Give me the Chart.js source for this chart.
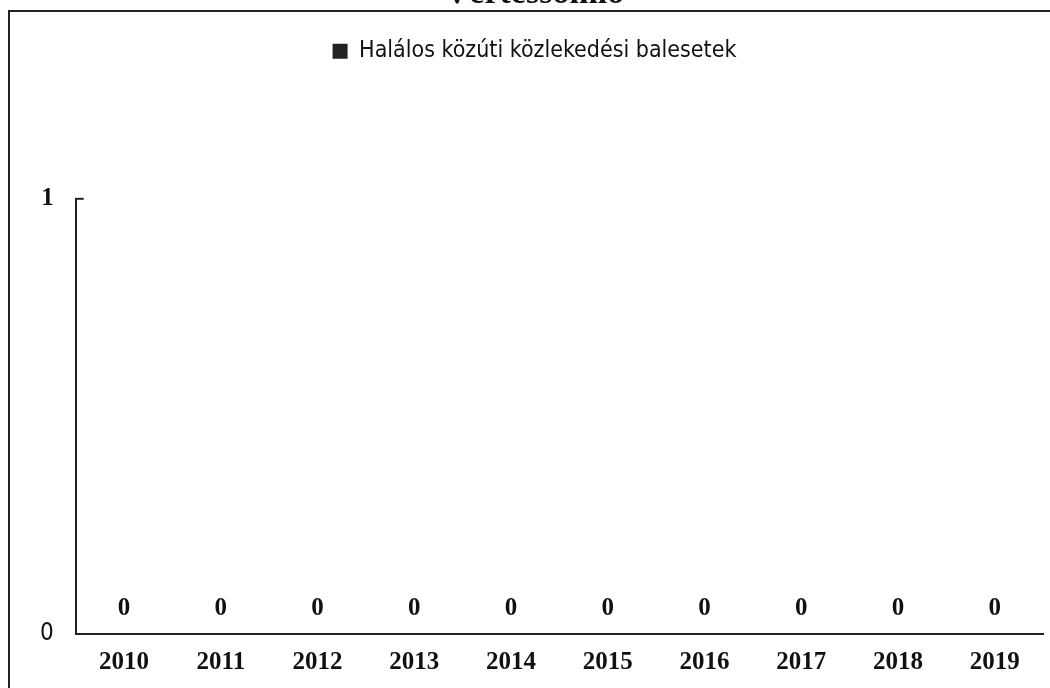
<!DOCTYPE html>
<html>
<head>
<meta charset="utf-8">
<script src="https://cdn.jsdelivr.net/npm/chart.js@4.4.0/dist/chart.umd.min.js"></script>
<style>
  html, body { margin: 0; padding: 0; background: #fff; overflow: hidden; }
  body { width: 1050px; height: 688px; position: relative; }
  .cadre { position: absolute; left: 8px; top: 10px; width: 1100px; height: 700px; border: 2px solid #222; }
  .zone { position: absolute; left: 0; top: -26px; width: 1050px; height: 710px; }
</style>
</head>
<body>
<div class="cadre"></div>
<div class="zone"><canvas id="chartBalesetek"></canvas></div>
<script>
const titre = "Vértessomló";
const evek = ["2010", "2011", "2012", "2013", "2014", "2015", "2016", "2017", "2018", "2019"];
const balesetek = [0, 0, 0, 0, 0, 0, 0, 0, 0, 0];
const yTicks = [0, 1];

// plus d'espace entre la légende et le graphique
const legendGap = {
  id: "legendGap",
  beforeInit(chart) {
    const fit = chart.legend.fit;
    chart.legend.fit = function () {
      fit.bind(chart.legend)();
      this.height += 126;
    };
  },
};

// étiquettes de valeurs + petit trait en haut de l'axe
const valeurs = {
  id: "valeurs",
  afterDatasetsDraw(chart) {
    const ctx = chart.ctx;
    const meta = chart.getDatasetMeta(0);
    ctx.save();
    ctx.font = "bold 25px 'Liberation Serif'";
    ctx.fillStyle = "#111";
    ctx.textAlign = "center";
    ctx.textBaseline = "middle";
    meta.data.forEach((bar, i) => {
      ctx.fillText(String(balesetek[i]), bar.x, bar.y - 25);
    });
    const y = chart.scales.y;
    const yTop = y.getPixelForValue(1);
    ctx.strokeStyle = "#222";
    ctx.lineWidth = 2;
    ctx.beginPath();
    ctx.moveTo(chart.chartArea.left, yTop);
    ctx.lineTo(chart.chartArea.left + 8, yTop);
    ctx.stroke();
    ctx.restore();
  },
};

new Chart(document.getElementById("chartBalesetek"), {
  type: "bar",
  data: {
    labels: evek,
    datasets: [
      {
        label: "Halálos közúti közlekedési balesetek",
        data: balesetek,
        backgroundColor: "#222",
        borderWidth: 0,
      },
    ],
  },
  options: {
    responsive: true,
    maintainAspectRatio: false,
    animation: false,
    layout: { padding: { left: 26, right: 7, top: 0, bottom: 0 } },
    scales: {
      x: {
        grid: { display: false },
        border: { display: true, color: "#222", width: 2 },
        ticks: {
          color: "#111",
          font: { family: "'Liberation Serif'", size: 25, weight: "bold" },
          padding: 6,
          maxRotation: 0,
        },
      },
      y: {
        min: 0,
        max: 1,
        afterBuildTicks: (axis) => {
          axis.ticks = yTicks.map((v) => ({ value: v }));
        },
        grid: { display: false },
        border: { display: true, color: "#222", width: 2 },
        ticks: {
          color: "#111",
          font: (c) =>
            c.tick && c.tick.value === 1
              ? { family: "'Liberation Serif'", size: 25, weight: "bold" }
              : { family: "'Liberation Sans Narrow', 'DejaVu Sans Condensed'", size: 24 },
          padding: 14,
        },
      },
    },
    plugins: {
      title: {
        display: true,
        text: titre,
        color: "#111",
        font: { family: "'Liberation Serif'", size: 34, weight: "bold" },
        padding: { top: 0, bottom: 15 },
      },
      legend: {
        display: true,
        position: "top",
        labels: {
          color: "#111",
          boxWidth: 15,
          boxHeight: 15,
          font: { family: "'Liberation Sans Narrow', 'DejaVu Sans Condensed'", size: 23 },
        },
      },
      tooltip: { enabled: false },
    },
  },
  plugins: [legendGap, valeurs],
});
</script>
</body>
</html>
